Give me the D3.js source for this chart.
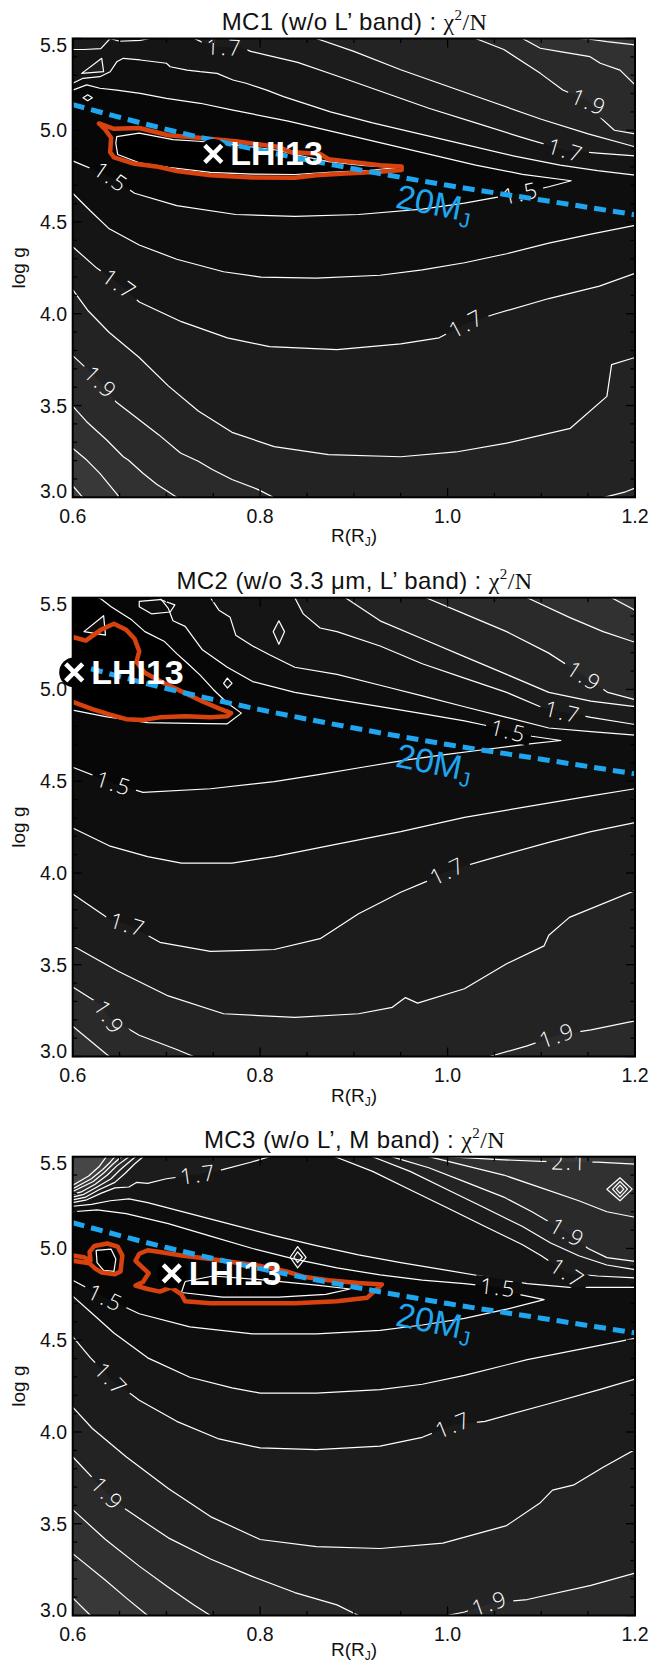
<!DOCTYPE html>
<html><head><meta charset="utf-8">
<script src="https://cdn.jsdelivr.net/npm/d3@7"></script>
<style>body{margin:0;background:#fff}svg{display:block}</style>
</head><body>
<svg id="c" width="662" height="1664"></svg>
<script>
// ---------------- DATA ----------------
const xTicks = [0.6, 0.8, 1.0, 1.2];
const yTicks = [3.0, 3.5, 4.0, 4.5, 5.0, 5.5];
const titles = ["MC1 (w/o L\u2019 band) : ", "MC2 (w/o 3.3 \u03bcm, L\u2019 band) : ", "MC3 (w/o L\u2019, M band) : "];
const bestFit = [[0.75, 4.871], [0.6016, 5.093], [0.7057, 4.864]];
const valleyPoint = [[0.80, 4.80], [0.63, 5.05], [0.80, 4.75]];
const line20MJ = [[0.6,5.14],[0.7,5.005],[0.8,4.89],[0.9,4.79],[1.0,4.70],[1.1,4.62],[1.2,4.54]];
const label20MJ = [0.986, 4.605];

// contour lines: [level, points [R, log g], kind] kind: o=open (ends on frame), lo=closed low inside, hi=closed high inside
const mc1Lines = [
 [1.4,[[0.647,4.965],[0.671,4.984],[0.707,4.949],[0.734,4.940],[0.774,4.920],[0.819,4.891],[0.837,4.868],[0.873,4.829],[0.909,4.809],[0.946,4.796],[0.918,4.782],[0.873,4.770],[0.837,4.759],[0.792,4.761],[0.747,4.770],[0.702,4.798],[0.671,4.823],[0.648,4.868],[0.646,4.930]],"lo"],
 [1.5,[[0.6,5.219],[0.615,5.247],[0.629,5.229],[0.647,5.219],[0.672,5.201],[0.700,5.174],[0.736,5.147],[0.771,5.110],[0.83,5.05],[0.88,4.99],[0.93,4.93],[0.98,4.87],[1.03,4.81],[1.08,4.76],[1.132,4.725],[1.108,4.692],[1.078,4.657],[1.049,4.632],[1.018,4.603],[0.973,4.570],[0.905,4.541],[0.837,4.531],[0.774,4.541],[0.711,4.589],[0.666,4.657],[0.641,4.745],[0.6,4.833]],"o"],
 [1.5,[[0.611,5.177],[0.616,5.193],[0.621,5.177],[0.616,5.161]],"hi"],
 [1.6,[[0.6,5.256],[0.611,5.283],[0.629,5.292],[0.640,5.319],[0.647,5.373],[0.654,5.392],[0.672,5.383],[0.700,5.365],[0.704,5.346],[0.722,5.328],[0.736,5.319],[0.754,5.310],[0.771,5.274],[0.785,5.256],[0.807,5.219],[0.825,5.183],[0.875,5.100],[0.92,5.04],[0.97,4.98],[1.02,4.92],[1.07,4.86],[1.12,4.81],[1.16,4.78],[1.2,4.755]],"o"],
 [1.6,[[0.6,4.657],[0.619,4.560],[0.639,4.463],[0.671,4.375],[0.711,4.297],[0.761,4.229],[0.801,4.200],[0.860,4.194],[0.928,4.210],[0.973,4.239],[1.018,4.278],[1.063,4.327],[1.108,4.385],[1.153,4.434],[1.2,4.482]],"o"],
 [1.7,[[0.73,5.5],[0.74,5.475],[0.754,5.455],[0.78,5.45],[0.79,5.43],[0.815,5.40],[0.84,5.37],[0.88,5.30],[0.93,5.21],[0.98,5.12],[1.03,5.04],[1.08,4.96],[1.126,4.891],[1.16,4.875],[1.2,4.86]],"o"],
 [1.7,[[0.6,5.44],[0.612,5.44],[0.63,5.445],[0.64,5.5]],"o"],
 [1.7,[[0.640,5.5],[0.650,5.485],[0.672,5.49],[0.682,5.5]],"o"],
 [1.7,[[0.6096,5.31],[0.631,5.392],[0.633,5.319]],"hi"],
 [1.7,[[0.6,4.365],[0.6257,4.249],[0.650,4.161],[0.671,4.064],[0.716,3.957],[0.765,3.869],[0.810,3.821],[0.882,3.805],[0.950,3.836],[0.991,3.869],[1.020,3.947],[1.049,3.996],[1.108,4.083],[1.162,4.151],[1.2,4.220]],"o"],
 [1.8,[[0.86,5.5],[0.9,5.43],[0.95,5.33],[1.0,5.24],[1.05,5.15],[1.1,5.06],[1.15,4.98],[1.2,4.91]],"o"],
 [1.8,[[0.6,4.132],[0.6167,4.015],[0.639,3.898],[0.671,3.762],[0.702,3.607],[0.734,3.470],[0.770,3.354],[0.815,3.276],[0.873,3.233],[0.950,3.221],[1.009,3.247],[1.063,3.295],[1.131,3.376],[1.170,3.550],[1.175,3.723],[1.2,3.762]],"o"],
 [1.9,[[1.03,5.5],[1.06,5.44],[1.099,5.31],[1.123,5.219],[1.152,5.156],[1.164,5.065],[1.178,5.0],[1.2,4.98]],"o"],
 [1.9,[[0.6,3.772],[0.6144,3.704],[0.630,3.626],[0.646,3.521],[0.692,3.340],[0.715,3.241],[0.734,3.196],[0.749,3.151],[0.770,3.097],[0.798,3.042],[0.814,3.0]],"o"],
 [1.9,[[1.167,3.0],[1.19,3.03],[1.2,3.05]],"o"],
 [2.0,[[1.08,5.5],[1.099,5.447],[1.120,5.428],[1.152,5.401],[1.163,5.365],[1.184,5.328],[1.2,5.247]],"o"],
 [2.0,[[0.6,3.497],[0.6149,3.412],[0.6363,3.312],[0.654,3.221],[0.6593,3.203],[0.6753,3.130],[0.6896,3.071],[0.711,3.0]],"o"],
 [2.1,[[1.14,5.5],[1.152,5.496],[1.170,5.483],[1.2,5.465]],"o"],
 [2.1,[[0.6,3.267],[0.615,3.203],[0.629,3.130],[0.650,3.0]],"o"],
 [2.2,[[0.6,3.063],[0.6107,3.0]],"o"]
];
const mc1Red = [[0.628,5.037],[0.644,5.008],[0.671,5.012],[0.702,4.973],[0.734,4.959],[0.774,4.940],[0.819,4.910],[0.833,4.881],[0.864,4.871],[0.873,4.842],[0.905,4.823],[0.928,4.809],[0.951,4.803],[0.951,4.784],[0.928,4.774],[0.891,4.764],[0.860,4.755],[0.837,4.741],[0.792,4.743],[0.747,4.755],[0.711,4.778],[0.689,4.803],[0.666,4.817],[0.644,4.852],[0.640,4.881],[0.641,4.959],[0.634,5.008],[0.628,5.037]];
const mc1Labels = [["1.7",0.762,5.452],["1.9",1.151,5.154],["1.7",1.126,4.891],["1.5",0.641,4.745],["1.5",1.078,4.657],["1.7",0.650,4.161],["1.7",1.020,3.947],["1.9",0.630,3.626]];

const mc2Lines = [
 [1.4,[[0.6,4.887],[0.635,4.852],[0.680,4.819],[0.725,4.815],[0.765,4.813],[0.780,4.871],[0.765,4.926],[0.750,5.0],[0.736,5.078],[0.723,5.140],[0.711,5.195],[0.698,5.261],[0.677,5.315],[0.662,5.383],[0.641,5.451],[0.630,5.494],[0.627,5.5]],"o"],
 [1.5,[[0.612,5.315],[0.633,5.402],[0.635,5.296]],"hi"],
 [1.5,[[0.671,5.48],[0.693,5.49],[0.709,5.461],[0.704,5.422],[0.684,5.412],[0.671,5.451]],"hi"],
 [1.5,[[0.765,5.062],[0.770,5.033],[0.765,5.008],[0.761,5.033]],"hi"],
 [1.5,[[0.693,5.5],[0.702,5.442],[0.707,5.374],[0.720,5.344],[0.738,5.218],[0.765,5.121],[0.792,5.043],[0.837,4.984],[0.882,4.945],[0.928,4.906],[0.973,4.868],[1.018,4.829],[1.040,4.805],[1.065,4.774],[1.090,4.745],[1.121,4.722],[1.085,4.702],[1.040,4.673],[0.995,4.644],[0.955,4.615],[0.909,4.576],[0.864,4.537],[0.815,4.498],[0.747,4.459],[0.675,4.439],[0.644,4.488],[0.6,4.576]],"o"],
 [1.6,[[0.747,5.5],[0.756,5.432],[0.768,5.393],[0.774,5.296],[0.792,5.237],[0.810,5.189],[0.837,5.121],[0.882,5.082],[0.928,5.023],[0.973,4.965],[1.018,4.906],[1.063,4.848],[1.108,4.790],[1.153,4.770],[1.2,4.751]],"o"],
 [1.6,[[0.6,4.245],[0.639,4.148],[0.680,4.089],[0.716,4.054],[0.770,4.054],[0.815,4.089],[0.882,4.157],[0.950,4.225],[1.018,4.303],[1.085,4.362],[1.153,4.420],[1.2,4.459]],"o"],
 [1.7,[[0.820,5.374],[0.826,5.315],[0.820,5.247],[0.814,5.315]],"hi"],
 [1.7,[[0.837,5.5],[0.846,5.412],[0.864,5.335],[0.882,5.315],[0.928,5.237],[0.973,5.140],[1.018,5.062],[1.063,4.984],[1.099,4.906],[1.123,4.877],[1.153,4.848],[1.2,4.809]],"o"],
 [1.7,[[0.6,3.885],[0.639,3.749],[0.659,3.719],[0.693,3.622],[0.747,3.573],[0.815,3.583],[0.864,3.642],[0.905,3.778],[0.950,3.895],[0.977,3.953],[1.0,4.011],[1.040,4.070],[1.108,4.167],[1.153,4.225],[1.2,4.274]],"o"],
 [1.8,[[0.891,5.5],[0.928,5.374],[0.973,5.276],[1.018,5.179],[1.063,5.082],[1.108,4.984],[1.153,4.936],[1.2,4.906]],"o"],
 [1.8,[[0.6,3.603],[0.648,3.466],[0.702,3.330],[0.761,3.233],[0.837,3.213],[0.905,3.233],[0.941,3.268],[0.955,3.321],[0.968,3.291],[1.018,3.369],[1.063,3.505],[1.103,3.603],[1.108,3.661],[1.130,3.758],[1.2,3.904]],"o"],
 [1.9,[[0.977,5.5],[1.018,5.412],[1.063,5.315],[1.108,5.198],[1.146,5.072],[1.171,4.984],[1.2,4.945]],"o"],
 [1.9,[[0.6,3.379],[0.630,3.282],[0.639,3.213],[0.671,3.116],[0.711,3.038],[0.729,3.0]],"o"],
 [1.9,[[1.045,3.0],[1.085,3.058],[1.117,3.116],[1.153,3.145],[1.2,3.194]],"o"],
 [2.0,[[1.085,5.5],[1.130,5.393],[1.166,5.315],[1.2,5.257]],"o"],
 [2.0,[[0.6,3.165],[0.639,3.0]],"o"],
 [2.1,[[1.175,5.5],[1.2,5.432]],"o"]
];
const mc2Red = [[0.6,5.286],[0.614,5.266],[0.630,5.325],[0.644,5.358],[0.657,5.325],[0.666,5.276],[0.671,5.208],[0.668,5.150],[0.677,5.091],[0.698,5.033],[0.720,4.980],[0.738,4.936],[0.756,4.897],[0.769,4.871],[0.765,4.854],[0.747,4.848],[0.720,4.854],[0.693,4.848],[0.675,4.834],[0.657,4.838],[0.639,4.864],[0.621,4.893],[0.6,4.932]];
const mc2Labels = [["1.5",1.065,4.774],["1.5",0.644,4.488],["1.7",1.123,4.877],["1.9",1.146,5.072],["1.7",1.0,4.011],["1.7",0.659,3.719],["1.9",0.639,3.213],["1.9",1.117,3.116]];

const mc3Lines = [
 [1.4,[[0.625,4.990],[0.641,4.996],[0.646,4.942],[0.644,4.875],[0.633,4.881],[0.626,4.923]],"lo"],
 [1.4,[[0.716,4.760],[0.76,4.735],[0.82,4.735],[0.87,4.75],[0.896,4.779],[0.86,4.80],[0.80,4.83],[0.75,4.85],[0.72,4.82]],"lo"],
 [1.5,[[0.6,5.20],[0.626,5.21],[0.657,5.19],[0.702,5.135],[0.747,5.067],[0.792,5.0],[0.837,4.942],[0.882,4.894],[0.928,4.856],[0.973,4.827],[1.018,4.808],[1.054,4.788],[1.072,4.754],[1.103,4.721],[1.063,4.669],[1.018,4.619],[0.973,4.583],[0.928,4.554],[0.860,4.535],[0.792,4.535],[0.725,4.573],[0.671,4.644],[0.635,4.731],[0.6,4.827]],"o"],
 [1.6,[[0.840,5.010],[0.849,4.952],[0.840,4.894],[0.832,4.952]],"hi"],
 [1.7,[[0.840,4.981],[0.845,4.952],[0.840,4.923],[0.836,4.952]],"hi"],
 [1.6,[[0.6,5.23],[0.62,5.24],[0.64,5.26],[0.66,5.27],[0.68,5.25],[0.725,5.19],[0.770,5.13],[0.815,5.07],[0.860,5.015],[0.905,4.965],[0.950,4.923],[0.995,4.885],[1.040,4.846],[1.085,4.808],[1.130,4.788],[1.2,4.788]],"o"],
 [1.6,[[0.6,4.740],[0.619,4.654],[0.644,4.539],[0.680,4.404],[0.725,4.298],[0.770,4.240],[0.8,4.212],[0.860,4.212],[0.928,4.231],[0.973,4.260],[1.018,4.308],[1.085,4.394],[1.153,4.462],[1.2,4.510]],"o"],
 [1.7,[[0.6,5.25],[0.615,5.265],[0.63,5.30],[0.645,5.33],[0.66,5.335],[0.668,5.36],[0.68,5.355],[0.70,5.38],[0.734,5.404],[0.76,5.43],[0.79,5.47],[0.81,5.5]],"o"],
 [1.8,[[0.6,5.265],[0.614,5.28],[0.628,5.32],[0.645,5.36],[0.656,5.41],[0.666,5.46],[0.675,5.5]],"o"],
 [1.9,[[0.6,5.28],[0.612,5.295],[0.626,5.335],[0.641,5.38],[0.651,5.43],[0.66,5.47],[0.667,5.5]],"o"],
 [2.0,[[0.6,5.295],[0.61,5.31],[0.624,5.35],[0.637,5.40],[0.647,5.45],[0.66,5.5]],"o"],
 [2.1,[[0.6,5.31],[0.622,5.365],[0.634,5.415],[0.643,5.46],[0.652,5.5]],"o"],
 [2.2,[[0.6,5.325],[0.62,5.38],[0.632,5.43],[0.64,5.47],[0.645,5.5]],"o"],
 [2.3,[[0.6,5.345],[0.617,5.395],[0.628,5.445],[0.636,5.5]],"o"],
 [1.7,[[0.88,5.5],[0.92,5.42],[0.96,5.32],[1.0,5.22],[1.04,5.12],[1.08,5.02],[1.10,4.96],[1.128,4.865],[1.16,4.85],[1.2,4.84]],"o"],
 [1.7,[[0.6,4.519],[0.619,4.404],[0.641,4.288],[0.671,4.173],[0.711,4.058],[0.756,3.962],[0.8,3.913],[0.860,3.904],[0.928,3.923],[0.973,3.971],[1.006,4.039],[1.040,4.058],[1.108,4.154],[1.162,4.231],[1.2,4.288]],"o"],
 [1.8,[[0.92,5.5],[0.96,5.42],[1.0,5.32],[1.04,5.22],[1.08,5.12],[1.11,5.03],[1.14,4.96],[1.17,4.91],[1.2,4.885]],"o"],
 [1.8,[[0.6,4.135],[0.621,4.019],[0.657,3.865],[0.702,3.692],[0.747,3.539],[0.8,3.414],[0.860,3.375],[0.928,3.365],[0.995,3.394],[1.063,3.490],[1.099,3.615],[1.112,3.683],[1.135,3.712],[1.166,3.808],[1.2,3.904]],"o"],
 [1.9,[[0.94,5.5],[0.98,5.44],[1.02,5.36],[1.06,5.28],[1.09,5.2],[1.11,5.14],[1.128,5.087],[1.15,5.0],[1.17,4.95],[1.2,4.93]],"o"],
 [1.9,[[0.6,3.865],[0.637,3.664],[0.657,3.577],[0.702,3.423],[0.747,3.308],[0.792,3.212],[0.837,3.125],[0.882,3.058],[0.905,3.0]],"o"],
 [1.9,[[0.9996,3.0],[1.018,3.019],[1.045,3.067],[1.085,3.087],[1.153,3.164],[1.2,3.231]],"o"],
 [2.0,[[0.98,5.5],[1.02,5.45],[1.06,5.40],[1.10,5.33],[1.14,5.26],[1.17,5.2],[1.2,5.17]],"o"],
 [2.1,[[1.184,5.385],[1.197,5.323],[1.184,5.260],[1.170,5.323]],"hi"],
 [2.2,[[1.184,5.365],[1.192,5.323],[1.184,5.280],[1.176,5.323]],"hi"],
 [2.3,[[1.184,5.345],[1.188,5.323],[1.184,5.300],[1.180,5.323]],"hi"],
 [2.0,[[0.6,3.577],[0.635,3.414],[0.671,3.269],[0.702,3.154],[0.729,3.058],[0.747,3.0]],"o"],
 [2.1,[[1.0,5.5],[1.05,5.485],[1.1,5.475],[1.13,5.471],[1.16,5.47],[1.2,5.46]],"o"],
 [2.1,[[0.6,3.337],[0.635,3.192],[0.657,3.096],[0.680,3.0]],"o"],
 [2.2,[[0.6,3.096],[0.619,3.0]],"o"]
];
const mc3Red = [[0.671,4.971],[0.680,4.990],[0.693,4.981],[0.716,4.962],[0.747,4.942],[0.774,4.923],[0.801,4.904],[0.828,4.875],[0.846,4.846],[0.873,4.827],[0.905,4.812],[0.930,4.804],[0.914,4.731],[0.882,4.712],[0.837,4.702],[0.792,4.702],[0.747,4.702],[0.720,4.712],[0.716,4.750],[0.705,4.788],[0.693,4.765],[0.680,4.779],[0.667,4.798],[0.675,4.817],[0.681,4.865],[0.673,4.904],[0.667,4.933],[0.671,4.971]];
const mc3RedSmall = [[0.6,4.962],[0.612,4.952],[0.619,4.933],[0.618,4.981],[0.623,5.013],[0.637,5.027],[0.648,5.010],[0.653,4.962],[0.651,4.875],[0.645,4.860],[0.631,4.869],[0.624,4.890],[0.618,4.919],[0.6,4.933]];
const mc3Labels = [["1.7",0.734,5.404],["2.1",1.130,5.471],["1.9",1.128,5.087],["1.7",1.128,4.865],["1.5",1.054,4.788],["1.5",0.635,4.731],["1.7",0.641,4.288],["1.7",1.006,4.039],["1.9",0.637,3.664],["1.9",1.045,3.067]];

// ---------------- LAYOUT / STYLE ----------------
const X0 = 72.7, X1 = 635, PH = 458.8;
const panelTops = [38.5, 597.7, 1156.7];
const xLabelDrop = [45, 45, 40];
const RED = "#d8420f", BLUE = "#1fa6ee";
const SANS = "'Liberation Sans', Arial, Helvetica, sans-serif";
const SERIF = "'Liberation Serif', 'Times New Roman', serif";
function shade(l){ const v = Math.max(0, Math.round((l - 1.3) * 70)); return `rgb(${v},${v},${v})`; }

const svg = d3.select("#c");
const panels = [
 {lines: mc1Lines, reds: [[mc1Red, true]], labels: mc1Labels},
 {lines: mc2Lines, reds: [[mc2Red, false]], labels: mc2Labels},
 {lines: mc3Lines, reds: [[mc3Red, true], [mc3RedSmall, false]], labels: mc3Labels}
];

panels.forEach((p, i) => {
  const top = panelTops[i], bottom = top + PH, Wd = X1 - X0, P = 2*Wd + 2*PH;
  const x = d3.scaleLinear().domain([0.6, 1.2]).range([X0, X1]);
  const y = d3.scaleLinear().domain([3.0, 5.5]).range([bottom, top]);
  const g = svg.append("g");
  const defs = g.append("defs");
  defs.append("clipPath").attr("id", "clip" + i).append("rect")
    .attr("x", X0).attr("y", top).attr("width", Wd).attr("height", PH);
  const plot = g.append("g").attr("clip-path", `url(#clip${i})`);
  plot.append("rect").attr("x", X0).attr("y", top).attr("width", Wd).attr("height", PH).attr("fill", "#000");

  const perim = ([px, py]) => {
    const dT = Math.abs(py - top), dR = Math.abs(px - X1), dB = Math.abs(py - bottom), dL = Math.abs(px - X0);
    const m = Math.min(dT, dR, dB, dL);
    if (m === dT) return [px - X0, [px, top]];
    if (m === dR) return [Wd + (py - top), [X1, py]];
    if (m === dB) return [Wd + PH + (X1 - px), [px, bottom]];
    return [2*Wd + PH + (bottom - py), [X0, py]];
  };
  const corners = [[Wd, [X1, top]], [Wd + PH, [X1, bottom]], [2*Wd + PH, [X0, bottom]], [0, [X0, top]]];
  const walk = (s0, s1, dir) => {
    const d = dir > 0 ? ((s1 - s0) % P + P) % P : ((s0 - s1) % P + P) % P;
    return corners.map(([c, pt]) => [dir > 0 ? ((c - s0) % P + P) % P : ((s0 - c) % P + P) % P, pt])
      .filter(([t]) => t > 1e-6 && t < d).sort((a, b) => a[0] - b[0]).map(v => v[1]);
  };
  const low = [x(valleyPoint[i][0]), y(valleyPoint[i][1])];
  const rectPath = `M${X0},${top}H${X1}V${bottom}H${X0}Z`;
  const toPx = pts => pts.map(([r, v]) => [x(r), y(v)]);

  const levels = Array.from(new Set(p.lines.map(l => l[0]))).sort((a, b) => a - b);
  const strokePaths = [];
  levels.forEach(lev => {
    const ls = p.lines.filter(l => l[0] === lev);
    const opens = ls.filter(l => l[2] === "o"), los = ls.filter(l => l[2] === "lo"), his = ls.filter(l => l[2] === "hi");
    let d = "";
    opens.forEach(([, pts]) => {
      const pp = toPx(pts);
      const a = perim(pp[0]), b = perim(pp[pp.length - 1]);
      pp[0] = a[1]; pp[pp.length - 1] = b[1];
      const A = pp.concat(walk(b[0], a[0], 1)), B = pp.concat(walk(b[0], a[0], -1));
      const poly = d3.polygonContains(A, low) ? B : A;
      d += "M" + poly.join("L") + "Z";
      strokePaths.push("M" + pp.join("L"));
    });
    if (opens.length === 0 && los.length) d += rectPath;
    los.forEach(([, pts]) => { const pp = toPx(pts); d += "M" + pp.join("L") + "Z"; strokePaths.push("M" + pp.join("L") + "Z"); });
    if (d) plot.append("path").attr("d", d).attr("fill", shade(lev)).attr("fill-rule", "evenodd");
    his.forEach(([, pts]) => {
      const pp = toPx(pts);
      plot.append("path").attr("d", "M" + pp.join("L") + "Z").attr("fill", shade(lev));
      strokePaths.push("M" + pp.join("L") + "Z");
    });
  });

  // label geometry (angle from nearest contour segment)
  const segs = [];
  p.lines.forEach(([, pts, kind]) => {
    const pp = toPx(pts); if (kind !== "o") pp.push(pp[0]);
    for (let k = 0; k < pp.length - 1; k++) segs.push([pp[k], pp[k + 1]]);
  });
  const labs = p.labels.map(([t, r, v]) => {
    const lx = x(r), ly = y(v);
    let best = null, bd = Infinity;
    segs.forEach(([a, b]) => {
      const dx = b[0] - a[0], dy = b[1] - a[1], L2 = dx*dx + dy*dy || 1;
      let u = ((lx - a[0])*dx + (ly - a[1])*dy) / L2; u = Math.max(0, Math.min(1, u));
      const qx = a[0] + u*dx, qy = a[1] + u*dy, dd = (qx - lx)**2 + (qy - ly)**2;
      if (dd < bd) { bd = dd; best = [dx, dy]; }
    });
    let ang = Math.atan2(best[1], best[0]) * 180 / Math.PI;
    if (ang > 90) ang -= 180; if (ang < -90) ang += 180;
    return {t, lx, ly, ang};
  });
  const mask = defs.append("mask").attr("id", "mask" + i).attr("maskUnits", "userSpaceOnUse")
    .attr("x", 0).attr("y", 0).attr("width", 662).attr("height", 1664);
  mask.append("rect").attr("x", 0).attr("y", 0).attr("width", 662).attr("height", 1664).attr("fill", "#fff");
  labs.forEach(l => mask.append("rect").attr("x", -23).attr("y", -10).attr("width", 46).attr("height", 20)
    .attr("fill", "#000").attr("transform", `translate(${l.lx},${l.ly}) rotate(${l.ang})`));
  plot.append("g").attr("mask", `url(#mask${i})`).selectAll("path").data(strokePaths).join("path")
    .attr("d", d => d).attr("fill", "none").attr("stroke", "#fff").attr("stroke-width", 1.2).attr("stroke-linejoin", "round");
  plot.selectAll("text.cl").data(labs).join("text").attr("class", "cl")
    .attr("transform", l => `translate(${l.lx},${l.ly}) rotate(${l.ang})`)
    .attr("text-anchor", "middle").attr("dy", "0.36em")
    .style("font-family", "'Open Sans', " + SANS).style("font-weight", 300).style("font-size", "22px")
    .style("letter-spacing", "2px").attr("fill", "#fff").text(l => l.t);

  // red contours
  p.reds.forEach(([pts, closed]) => {
    const pp = toPx(pts);
    plot.append("path").attr("d", "M" + pp.join("L") + (closed ? "Z" : "")).attr("fill", "none")
      .attr("stroke", RED).attr("stroke-width", 4.5).attr("stroke-linejoin", "round");
  });
  // 20 MJ line
  plot.append("path").attr("d", d3.line().x(d => x(d[0])).y(d => y(d[1])).curve(d3.curveMonotoneX)(line20MJ))
    .attr("fill", "none").attr("stroke", BLUE).attr("stroke-width", 5).attr("stroke-dasharray", "12 7");
  const a20 = Math.atan2(y(line20MJ[6][1]) - y(line20MJ[0][1]), x(1.2) - x(0.6)) * 180 / Math.PI;
  const t20 = plot.append("text").attr("transform", `translate(${x(label20MJ[0])},${y(label20MJ[1])}) rotate(${a20})`)
    .attr("text-anchor", "middle").attr("dy", "0.36em").attr("fill", BLUE)
    .style("font-family", SANS).style("font-size", "34px");
  t20.append("tspan").text("20M");
  t20.append("tspan").attr("dy", "0.3em").style("font-size", "21px").text("J");

  // frame, ticks
  g.append("rect").attr("x", X0).attr("y", top).attr("width", Wd).attr("height", PH)
    .attr("fill", "none").attr("stroke", "#000").attr("stroke-width", 2);
  const tk = g.append("g").attr("stroke", "#000").attr("stroke-width", 1.3);
  d3.range(0, 13).forEach(k => {
    const r = 0.6 + k * 0.05, len = (k % 4 === 0) ? 9 : 4.5, px = x(r);
    tk.append("line").attr("x1", px).attr("x2", px).attr("y1", bottom).attr("y2", bottom - len);
    tk.append("line").attr("x1", px).attr("x2", px).attr("y1", top).attr("y2", top + len);
  });
  d3.range(0, 26).forEach(k => {
    const v = 3.0 + k * 0.1, len = (k % 5 === 0) ? 9 : 4.5, py = y(v);
    tk.append("line").attr("x1", X0).attr("x2", X0 + len).attr("y1", py).attr("y2", py);
    tk.append("line").attr("x1", X1).attr("x2", X1 - len).attr("y1", py).attr("y2", py);
  });
  const tl = g.append("g").style("font-family", SANS).style("font-size", "19.5px").attr("fill", "#111");
  xTicks.forEach(v => tl.append("text").attr("x", x(v)).attr("y", bottom + 25.4).attr("text-anchor", "middle").text(v.toFixed(1)));
  yTicks.forEach((v, k) => {
    const off = k === 0 ? 1 : (k === yTicks.length - 1 ? 13.5 : 7);
    tl.append("text").attr("x", 67).attr("y", y(v) + off).attr("text-anchor", "end").text(v.toFixed(1));
  });
  // axis titles
  const xl = g.append("text").attr("x", 354).attr("y", bottom + xLabelDrop[i]).attr("text-anchor", "middle")
    .style("font-family", SANS).style("font-size", "19px").attr("fill", "#111");
  xl.append("tspan").text("R(R");
  xl.append("tspan").attr("dy", 4).style("font-size", "12px").text("J");
  xl.append("tspan").attr("dy", -4).text(")");
  g.append("text").attr("transform", `translate(24.5,${(top + bottom) / 2}) rotate(-90)`).attr("text-anchor", "middle")
    .style("font-family", SANS).style("font-size", "19px").attr("fill", "#111").text("log g");
  // title
  const tt = g.append("text").attr("x", 354.5).attr("y", top - 9).attr("text-anchor", "middle")
    .style("font-family", SANS).style("font-size", "24px").style("letter-spacing", "0.4px").attr("fill", "#111");
  tt.append("tspan").text(titles[i]);
  tt.append("tspan").style("font-family", SERIF).text("\u03c7");
  tt.append("tspan").attr("dy", -10).style("font-family", SERIF).style("font-size", "15px").text("2");
  tt.append("tspan").attr("dy", 10).style("font-family", SERIF).text("/N");

  // best-fit marker
  const bx = x(bestFit[i][0]), by = y(bestFit[i][1]);
  g.append("circle").attr("cx", bx).attr("cy", by).attr("r", 15).attr("fill", "#000");
  const s = 8.5;
  g.append("path").attr("d", `M${bx - s},${by - s}L${bx + s},${by + s}M${bx - s},${by + s}L${bx + s},${by - s}`)
    .attr("stroke", "#fff").attr("stroke-width", 4.5);
  g.append("text").attr("x", bx + 17).attr("y", by + 11.5).attr("fill", "#fff")
    .style("font-family", SANS).style("font-weight", "bold").style("font-size", "34px").text("LHI13");
});
</script>
</body></html>
